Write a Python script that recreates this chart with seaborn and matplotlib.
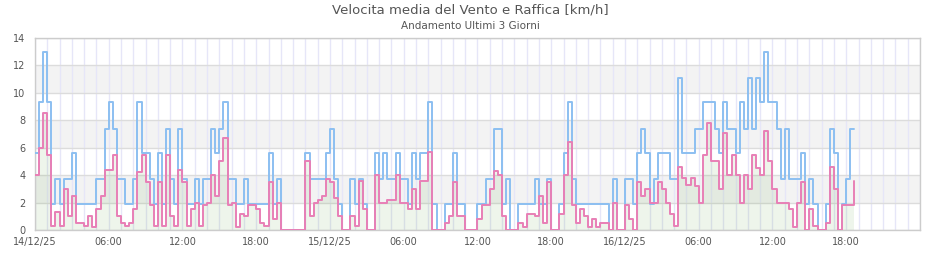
import numpy as np
import pandas as pd
import matplotlib
matplotlib.use("Agg")
import matplotlib.pyplot as plt
import matplotlib.dates as mdates
from matplotlib.ticker import FixedLocator, FuncFormatter
import seaborn as sns

sns.set_theme(style="white")
plt.rcParams["font.family"] = ["DejaVu Sans"]

# ---- data (20-minute samples, km/h) ----
start_time = "2025-12-14 00:00"
sample_step = "20min"

gust_14 = [5.6, 9.3, 13.0, 9.3, 1.9, 3.7, 1.9, 3.7, 3.7, 5.6, 1.9, 1.9, 1.9, 1.9, 1.9, 3.7, 3.7, 7.4,
           9.3, 7.4, 3.7, 3.7, 1.9, 1.9, 3.7, 9.3, 5.6,
           5.6, 3.7, 1.9, 5.6, 1.9, 7.4, 3.7, 1.9, 7.4, 3.7, 1.9, 1.9, 3.7, 1.9, 3.7, 3.7, 7.4, 5.6,
           7.4, 9.3, 3.7, 3.7, 1.9, 1.9, 3.7, 1.9, 1.9,
           1.9, 1.9, 1.9, 5.6, 1.9, 3.7, 0, 0, 0, 0, 0, 0, 5.6, 3.7, 3.7, 3.7, 3.7, 5.6]
gust_15 = [7.4, 3.7, 1.9, 0, 0, 3.7, 1.9, 3.7, 1.9,
           0, 0, 5.6, 3.7, 5.6, 3.7, 3.7, 5.6, 3.7, 3.7, 1.9, 5.6, 3.7, 5.6, 5.6, 9.3, 1.9, 0,
           0, 1.9, 1.9, 5.6, 1.9, 1.9, 0, 0, 0,
           1.9, 1.9, 3.7, 3.7, 7.4, 7.4, 1.9, 3.7, 0, 0, 1.9, 1.9, 1.9, 1.9, 3.7, 1.9, 1.9, 3.7,
           0, 0, 1.9, 5.6, 9.3, 3.7, 1.9, 1.9, 1.9,
           1.9, 1.9, 1.9, 1.9, 1.9, 0, 3.7, 0, 0]
gust_16 = [3.7, 3.7, 1.9, 5.6, 7.4, 5.6, 1.9, 3.7, 5.6, 5.6, 5.6, 3.7, 3.7, 11.1, 5.6, 5.6, 5.6, 7.4,
           7.4, 9.3, 9.3, 9.3, 7.4, 5.6, 9.3, 7.4, 7.4, 5.6, 9.3, 7.4, 11.1, 7.4, 11.1, 9.3, 13.0, 9.3,
           9.3, 7.4, 3.7, 7.4, 3.7, 3.7, 3.7, 5.6, 1.9,
           3.7, 1.9, 0, 0, 1.9, 7.4, 5.6, 0, 1.9, 3.7, 7.4, 7.4]

mean_14 = [4.0, 6.0, 8.5, 5.5, 0.3, 1.3, 0.3, 3.0, 1.0, 2.5, 0.5, 0.5, 0.3, 1.0, 0.2, 1.5, 2.5, 4.4,
           4.4, 5.5, 1.0, 0.5, 0.3, 0.5, 1.5, 4.2, 5.5,
           3.5, 1.8, 0.3, 3.5, 0.3, 5.5, 1.0, 0.3, 4.4, 3.5, 0.3, 1.5, 2.0, 0.3, 1.8, 2.0, 4.0, 2.5,
           5.0, 6.7, 1.8, 2.0, 0.2, 1.2, 1.0, 1.8, 1.8,
           1.5, 0.5, 0.3, 3.5, 0.8, 2.0, 0, 0, 0, 0, 0, 0, 5.0, 1.0, 2.0, 2.2, 2.5, 3.7]
mean_15 = [3.5, 2.3, 1.0, 0, 0, 1.0, 0.3, 3.6, 1.5,
           0, 0, 4.0, 2.0, 2.0, 2.2, 2.2, 4.0, 2.0, 2.0, 1.5, 3.0, 1.5, 3.6, 3.6, 5.7, 0, 0,
           0, 0.5, 1.0, 3.5, 1.0, 1.0, 0, 0, 0,
           0.8, 1.8, 1.8, 3.0, 4.3, 4.0, 1.0, 0, 0, 0, 0.5, 0.2, 1.2, 1.2, 1.0, 2.5, 0.5, 3.5,
           0, 0, 1.2, 4.0, 6.4, 1.8, 0.5, 1.5, 1.0,
           0.2, 0.8, 0.2, 0.5, 0.5, 0, 2.0, 0, 0]
mean_16 = [1.8, 0.8, 0, 3.5, 2.5, 3.0, 2.0, 2.0, 3.5, 3.0, 2.0, 1.2, 0.3, 4.6, 3.8, 3.3, 3.8, 3.2,
           2.0, 5.5, 7.8, 5.0, 5.0, 3.0, 7.1, 4.0, 5.5, 4.0, 2.0, 4.0, 3.0, 5.5, 4.5, 4.0, 7.2, 5.0,
           3.0, 2.0, 2.0, 2.0, 1.5, 0.2, 2.0, 3.5, 0,
           1.5, 0.3, 0, 0, 0.5, 4.6, 3.0, 0, 1.8, 1.8, 1.8, 3.6]

y_ticks = [0, 2, 4, 6, 8, 10, 12, 14]
title = "Velocita media del Vento e Raffica [km/h]"
subtitle = "Andamento Ultimi 3 Giorni"

gust = gust_14 + gust_15 + gust_16
mean = mean_14 + mean_15 + mean_16
times = pd.date_range(start_time, periods=len(gust), freq=sample_step)
df = pd.DataFrame({"time": times, "Raffica": gust, "Media": mean})

fig = plt.figure(figsize=(9.4, 2.6), dpi=100)
ax = fig.add_axes([35 / 940, 30 / 260, 885 / 940, 192 / 260])

# alternating bands
for lo in (2, 6, 10):
    ax.axhspan(lo, lo + 2, color="#f3f3f3", zorder=0, lw=0)

ax.fill_between(df["time"], df["Media"], step="post", color="#5a9e3c", alpha=0.1, lw=0, zorder=1)

sns.lineplot(data=df, x="time", y="Raffica", ax=ax, drawstyle="steps-post",
             color="#8cbff1", lw=1.4, zorder=3)
sns.lineplot(data=df, x="time", y="Media", ax=ax, drawstyle="steps-post",
             color="#e87fb6", lw=1.4, zorder=4)

x0 = pd.Timestamp("2025-12-14 00:00")
x1 = pd.Timestamp("2025-12-17 00:00")
ax.set_xlim(x0, x1)
ax.set_ylim(0, 14)
ax.set_yticks(y_ticks)

major = pd.date_range(x0, "2025-12-16 18:00", freq="6h")
minor = pd.date_range(x0, x1, freq="1h")
ax.xaxis.set_major_locator(FixedLocator(mdates.date2num(major)))
ax.xaxis.set_minor_locator(FixedLocator(mdates.date2num(minor)))


def fmt(v, pos):
    d = mdates.num2date(v)
    if d.hour == 0:
        return d.strftime("%d/%m/%y")
    return d.strftime("%H:%M")


ax.xaxis.set_major_formatter(FuncFormatter(fmt))

ax.grid(False)
ax.xaxis.grid(True, which="both", color="#e6e6f8", lw=1, zorder=0.5)
ax.yaxis.grid(True, color="#dcdcdc", lw=1, zorder=0.6)
ax.set_axisbelow(True)

ax.tick_params(axis="both", which="both", length=0, labelsize=7, colors="#555555")
ax.tick_params(axis="y", pad=7)
ax.tick_params(axis="x", pad=5)
ax.set_xlabel("")
ax.set_ylabel("")
for s in ax.spines.values():
    s.set_color("#cccccc")
    s.set_linewidth(1)

fig.text(0.5, 1 - 10 / 260, title, ha="center", va="center", fontsize=9.5, color="#555555")
fig.text(0.5, 1 - 26 / 260, subtitle, ha="center", va="center", fontsize=7.5, color="#555555")

fig.savefig("out.png", dpi=100)
